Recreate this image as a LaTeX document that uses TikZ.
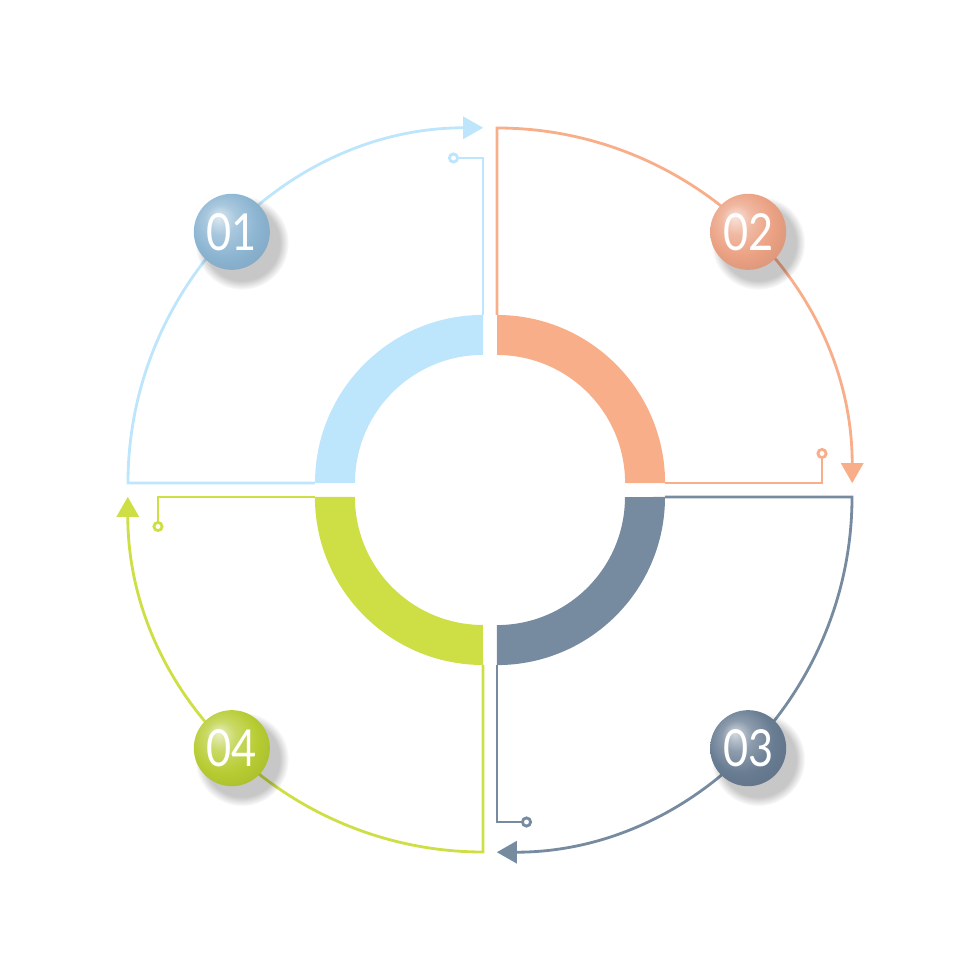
\documentclass[tikz,border=0pt]{standalone}
\usepackage{fontspec}
\setmainfont{Lato}
\usetikzlibrary{arrows.meta,fadings}
\definecolor{qblue}{HTML}{BDE5FB}
\definecolor{qorange}{HTML}{F9AE8A}
\definecolor{qgray}{HTML}{778BA0}
\definecolor{qgreen}{HTML}{CEDF45}
\definecolor{bblue}{HTML}{8CB5D2}
\definecolor{borange}{HTML}{EBA183}
\definecolor{bgray}{HTML}{687C92}
\definecolor{bgreen}{HTML}{B7CC32}
\colorlet{ballc}{bblue}
\pgfdeclareradialshading[ballc]{glossy}{\pgfpoint{-9bp}{10bp}}{%
  color(0bp)=(ballc!30!white); color(10bp)=(ballc!75!white);
  color(22bp)=(ballc); color(32bp)=(ballc!93!black); color(50bp)=(ballc!93!black)}
\tikzset{
    flow/.style={line width=0.8pt},
    ballnum/.style={circle, minimum size=0.76cm, inner sep=0pt, shading=glossy,
      text=white, font=\fontsize{14.5pt}{15pt}\selectfont},
    ballshadow/.style={black, opacity=0.22, path fading=circle with fuzzy edge 20 percent}
}

\begin{document}
\begin{tikzpicture}[x=0.01cm,y=0.01cm]
    \useasboundingbox (-490,-490) rectangle (490,490);
    \foreach \c [count=\i from 0] in {qblue,qorange,qgray,qgreen} {
      \begin{scope}[rotate=-90*\i]
        \fill[\c] (-7,7) ++(-168,0) arc[start angle=180, end angle=90, radius=1.68cm]
          -- ++(0,-40) arc[start angle=90, end angle=180, radius=1.28cm] -- cycle;
        \draw[flow, \c, -{Triangle[length=2mm,width=2.2mm]}] (-175,7) -- (-362,7)
          arc[start angle=180, end angle=90, radius=3.55cm];
        \draw[flow, \c, -{Circle[open,length=1.1mm]}] (-7,175) -- (-7,332) -- (-42,332);
        \path (-7,7) ++(135:3.55cm) coordinate (b\i);
      \end{scope}
    }
    \foreach \b/\n [count=\i from 0] in {bblue/01,borange/02,bgray/03,bgreen/04} {
      \fill[ballshadow] ([shift={(0.1cm,-0.11cm)}]b\i) circle[radius=0.47cm];
      \node[ballnum, /utils/exec={\colorlet{ballc}{\b}}] (num\n) at (b\i)
        {\scalebox{0.85}[1]{\n}};
    }
\end{tikzpicture}
\end{document}
